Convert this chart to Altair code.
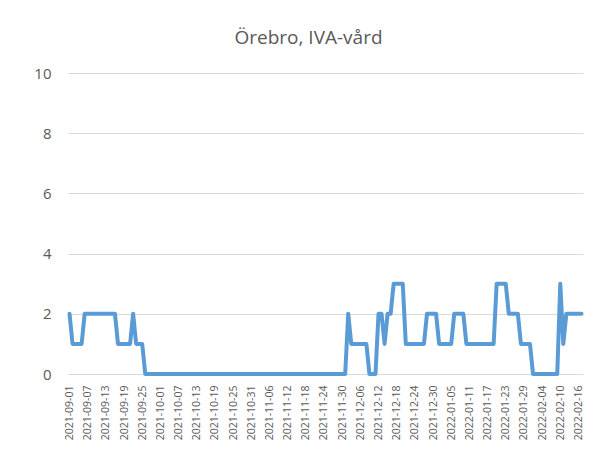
import altair as alt
import pandas as pd

# daily values, 2021-09-01 .. 2022-02-17 (170 days)
segments = [
    (2, 1), (1, 4), (2, 11), (1, 5), (2, 1), (1, 3), (0, 67),
    (2, 1), (1, 6), (0, 3), (2, 2), (1, 1), (2, 2), (3, 4),
    (1, 7), (2, 4), (1, 5), (2, 4), (1, 10), (3, 4), (2, 4),
    (1, 4), (0, 9), (3, 1), (1, 1), (2, 6),
]
values = []
for v, n in segments:
    values.extend([v] * n)

dates = pd.date_range("2021-09-01", periods=len(values), freq="D").strftime("%Y-%m-%d").tolist()
label_dates = dates[::6]
y_ticks = [0, 2, 4, 6, 8, 10]

df = pd.DataFrame({"date": dates, "value": values})

chart = alt.Chart(df).mark_line(
    color="#5B9BD5", strokeWidth=4, strokeJoin="round", strokeCap="round"
).encode(
    x=alt.X("date:O", title=None, sort=None,
            scale=alt.Scale(type="point", padding=0.5),
            axis=alt.Axis(values=label_dates, labelAngle=-90, labelFont="Open Sans",
                          labelFontSize=10.5, labelColor="#595959", ticks=False,
                          domain=False, grid=False, labelPadding=11)),
    y=alt.Y("value:Q", title=None, scale=alt.Scale(domain=[0, 10]),
            axis=alt.Axis(values=y_ticks, labelFont="Open Sans", labelFontSize=15,
                          labelColor="#595959", ticks=False, domain=False,
                          gridColor="#D9D9D9", gridWidth=1, labelPadding=17)),
).properties(
    width=515, height=301,
    title=alt.TitleParams("Örebro, IVA-vård", font="Open Sans", fontSize=19,
                          fontWeight="normal", color="#595959", anchor="middle",
                          frame="group", dx=-17, baseline="alphabetic", offset=3),
    autosize=alt.AutoSizeParams(type="none"),
    padding={"left": 60, "top": 65, "right": 10, "bottom": 70},
).configure_view(stroke=None)

chart.save("out.html", embed_options={"renderer": "svg", "actions": False})
